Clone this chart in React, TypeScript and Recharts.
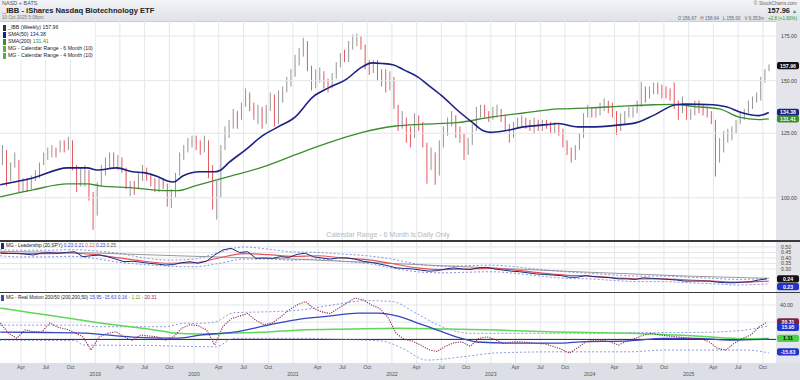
import React from 'react';
import { ComposedChart, Bar, Line, XAxis, YAxis, ReferenceLine } from 'recharts';

const FONT = '"Liberation Sans", Arial, sans-serif';

// ---------- price candles (semi-monthly, late Jan 2018 .. mid Oct 2025) ----------
const firstOpen = 113;
const close2018 = [118,108,111,114,104,105,103,106,108,112,116,117,118,117,121,119,122,112,107,108,110,101,95];
const high2018 = [120,118,113,117,113,107,107,108,110,113,117,119,120,119,122,122,123.5,122,112,111,112,108,102];
const low2018 = [112,104,106,111,102,102,102,103,106,107,112,114,115,115,117,117,118,110,102,104,104,99,89.5];
const close2019 = [104,110,113,116,113,114,111,104,104,103,108,110,108,105,104,106,105,99,101,108,115,119,121,122];
const high2019 = [105.5,112,115,117,117,116,115,111,106,106,109,112,111,109,107,107,107,105,103,109,117,120,123,124];
const low2019 = [94,104,108,111,111,110,109,103,100.5,101,103,106,106,104,102,102,103,97,96.5,100,108,114,117,119];
const close2020 = [121,118,122,110,100,101,118,124,128,133,131,137,142,138,133,136,130,136,142,130,140,145,148,152];
const high2020 = [124,122,124,122,112,106,120,128,131,136,135,139,146,144,139,138,137,138,144,143,145,147,152,156];
const low2020 = [118,116,117,107,96,92.7,100,118,123,127,127,131,137,135,131,129,127,129,135,128,129,139,144,147];
const close2021 = [160,163,172,158,150,151,153,150,146,152,158,163,162,168,172,174,170,160,156,158,155,150,146,150];
const high2021 = [164,168,174,172,158,156,157,155,151,154,160,165,167,172,176,176.5,175,170,161,161,161,156,156,155];
const low2021 = [152,158,163,155,145,146,149,146,144,146,151,157,160,160,167,169,167,156,153,154,150,147,144,145];
const close2022 = [138,129,132,126,123,133,130,120,112,116,108,120,125,130,133,125,124,116,121,127,134,136,134,133];
const high2022 = [152,138,135,131,128,134,133,130,121,119,117,122,128,132,135,133,128,125,123,129,137,138,138,135];
const low2022 = [136,126,127,121,119,124,126,119,105,110,104.6,108,119,124,128,123,121,114,116,120,126,132,132,130];
const close2023 = [135,136,132,129,124,128,130,131,129,128,131,127,130,129,127,128,126,121,118,114,119,124,133,136];
const high2023 = [137,138,136,133,129,130,132,133,132,131,132,131,131,131,130,130,129,127,122,119,120,125,134,138];
const low2023 = [131,132,130,126,121,123,127,128,127,126,125,126,126,127,125,125,124,119,116,113,114,118,123,132];
const close2024 = [134,136,137,139,137,135,128,131,134,135,135,138,146,142,145,147,146,145,144,142,138,135,138,133];
const high2024 = [137,137,139,141,140,139,135,134,135,137,137,140,149.4,147,147,149,149,148,147,146,149,140,142,137];
const low2024 = [132,132,133,135,134,132,124.3,126,129,132,132,134,137,139,141,143,143,141,141,140,136,131,134,131];
const close2025 = [134,138,137,135,134,131,113,120,123,124,126,129,132,134,138,140,141,150,155,157.96];
const high2025 = [136,140,140,138,137,135,128,123,126,127,128,131,135,136,140,142,144,152,156,158.64];
const low2025 = [131,133,134,133,132,129,107.6,115,117,121,122,125,129,131,134,136,139,140,149,155];

const closes = [...close2018, ...close2019, ...close2020, ...close2021, ...close2022, ...close2023, ...close2024, ...close2025];
const highs = [...high2018, ...high2019, ...high2020, ...high2021, ...high2022, ...high2023, ...high2024, ...high2025];
const lows = [...low2018, ...low2019, ...low2020, ...low2021, ...low2022, ...low2023, ...low2024, ...low2025];

// ---------- moving averages on price panel ----------
const sma50Dates = [2018.04,2018.37,2018.72,2018.92,2019.02,2019.22,2019.38,2019.49,2019.63,2019.73,2019.79,2019.89,2020.06,2020.21,2020.27,2020.35,2020.52,2020.69,2020.85,2021.02,2021.2,2021.36,2021.53,2021.7,2021.8,2021.9,2022.01,2022.12,2022.26,2022.39,2022.52,2022.66,2022.8,2022.93,2023.0,2023.13,2023.33,2023.57,2023.68,2023.88,2024.01,2024.26,2024.47,2024.64,2024.87,2024.97,2025.25,2025.38,2025.55,2025.71,2025.81];
const sma50Vals = [104.6,107.1,110.9,110.9,110.1,110.9,109.4,109.1,107.6,106.0,105.6,107.9,109.4,109.4,110.1,112.9,118,123.9,127.8,132.2,141.7,146.3,150.4,157.3,159.5,159.2,158.5,155.7,152,146.8,141.7,135.5,130.3,126,125.4,126,127.8,128.8,129.3,127.8,127.8,128.5,129.7,132.9,138,138.3,138,137,134.1,132.9,134.38];
const sma200Dates = [2018.04,2018.37,2018.72,2018.92,2019.05,2019.38,2019.73,2019.83,2020.01,2020.35,2020.69,2021.02,2021.36,2021.7,2022.04,2022.32,2022.66,2023.0,2023.33,2023.68,2024.01,2024.29,2024.64,2024.87,2025.04,2025.31,2025.51,2025.71,2025.81];
const sma200Vals = [100.3,102.8,104.9,104.9,104.2,103.5,102.5,102.5,104.2,107.6,111.2,116,121,125.4,128.2,129,129.7,132.2,134.1,136,136.5,137.2,138,138.2,137.2,136,132.2,131.1,131.41];

// ---------- Leadership panel (monthly / quarterly) ----------
const leadLine = [
  0.443,0.44,0.442,0.435,0.427,0.445,0.448,0.443,0.45,0.457,0.412,0.42,
  0.427,0.412,0.39,0.366,0.37,0.362,0.352,0.345,0.336,0.34,0.357,0.366,
  0.352,0.37,0.427,0.473,0.488,0.45,0.457,0.397,0.40,0.397,0.412,0.405,
  0.433,0.443,0.41,0.40,0.39,0.40,0.40,0.39,0.37,0.36,0.345,0.33,
  0.31,0.305,0.30,0.29,0.28,0.285,0.30,0.31,0.30,0.295,0.31,0.315,
  0.30,0.29,0.28,0.275,0.265,0.255,0.25,0.245,0.24,0.225,0.225,0.24,
  0.23,0.225,0.22,0.21,0.21,0.205,0.22,0.215,0.21,0.205,0.20,0.19,
  0.19,0.19,0.19,0.18,0.175,0.175,0.18,0.185,0.20,0.21];
const leadQDates = [2018.04,2018.25,2018.5,2018.75,2019.0,2019.25,2019.5,2019.75,2020.0,2020.25,2020.5,2020.75,2021.0,2021.25,2021.5,2021.75,2022.0,2022.25,2022.5,2022.75,2023.0,2023.25,2023.5,2023.75,2024.0,2024.25,2024.5,2024.75,2025.0,2025.25,2025.5,2025.81];
const leadAvg = [0.448,0.44,0.44,0.445,0.43,0.40,0.37,0.352,0.355,0.40,0.44,0.43,0.415,0.42,0.40,0.385,0.35,0.31,0.295,0.30,0.305,0.29,0.265,0.245,0.235,0.22,0.21,0.21,0.20,0.19,0.18,0.19];
const leadUpper = [0.475,0.47,0.47,0.475,0.465,0.44,0.40,0.38,0.39,0.45,0.50,0.48,0.455,0.45,0.435,0.42,0.39,0.345,0.325,0.33,0.335,0.32,0.295,0.275,0.26,0.245,0.235,0.235,0.225,0.215,0.205,0.215];
const leadLower = [0.42,0.41,0.41,0.415,0.395,0.36,0.34,0.325,0.32,0.35,0.39,0.39,0.38,0.39,0.37,0.35,0.31,0.275,0.265,0.27,0.275,0.26,0.235,0.215,0.21,0.195,0.185,0.185,0.175,0.165,0.155,0.165];
const leadTrendDates = [2018.04,2019.0,2020.0,2021.0,2022.0,2023.0,2024.0,2025.0,2025.81];
const leadTrend = [0.46,0.445,0.415,0.39,0.35,0.31,0.27,0.235,0.215];

// ---------- Real Motion panel ----------
const rmLine = [
  19,7,1.5,11,9,8.5,19,14,12,8,3,-12.4,
  3,7,9,3,-1,5,4,3,-1,3,13,17,
  16,11,-6.6,15,24,27,30,22,17,19,26,34,
  40,44,36,32,30,36,42,48,46,40,36,26,
  7,0,-2,-6.6,-12,-14,-8,-4,-3,-8,1,3,
  0,-4.7,-3,-2.8,-3.5,-4.7,-5,-8,-11,-16,-10,-2.8,
  -1,-1,-3,-6.6,-2,1,5,7,5,4,3,2,
  1,1,-3,-10.5,-12.4,-4.7,1,5,14,20.31];
const rmBlueDates = [2018.04,2018.5,2018.9,2019.05,2019.38,2019.73,2019.85,2020.06,2020.4,2020.75,2021.07,2021.36,2021.66,2021.86,2022.06,2022.26,2022.46,2022.73,2022.86,2023.26,2023.73,2023.9,2024.4,2024.75,2025.08,2025.41,2025.81];
const rmBlue = [8.5,8,7.3,5.8,2.7,1.5,1.5,5,8.5,16.6,23.6,27,30.6,30.6,27,19,10.8,0.3,-3,-4.3,-4.3,-2.8,-1.6,1.2,1.2,-0.8,0.16];
const rmGreenDates = [2018.04,2018.37,2018.72,2019.05,2019.38,2019.73,2019.79,2020.06,2020.4,2020.75,2021.07,2021.57,2022.07,2022.57,2023.07,2023.58,2024.42,2025.08,2025.58,2025.81];
const rmGreen = [36.4,30.6,24.8,19,14.3,8.5,7.3,6.2,7.3,8.5,10.8,12,13,12,10.8,8.8,7,3.8,0.8,1.11];
const rmUpperDates = [2018.04,2018.88,2019.0,2019.7,2019.9,2020.06,2020.22,2020.4,2020.73,2021.07,2021.4,2021.75,2022.0,2022.25,2022.5,2022.8,2023.5,2024.0,2024.5,2025.0,2025.5,2025.81];
const rmUpper = [16.6,16.6,14.7,14.7,18.6,18.6,20.5,31,32,34,40,45,44,30,15,7,7,7,8,8,10,15.95];
const rmLowerDates = [2018.04,2018.8,2018.88,2019.5,2020.22,2020.4,2021.07,2021.5,2021.9,2022.1,2022.35,2022.73,2023.07,2023.73,2024.4,2024.75,2025.58,2025.81];
const rmLower = [-1,-1.5,-6.6,-7,-8.6,1.2,1.2,0,-2,-10,-24,-20,-15.6,-14.4,-14.4,-12.4,-12.4,-15.63];

const priceTicks = [100, 125, 150, 175];
const leadTicks = [0.3, 0.35, 0.4, 0.45, 0.5];
const rmTicks = [20, 40];
const monthNames = ['', 'Apr', 'Jul', 'Oct'];

// ---------- derived structures ----------
const X_DOMAIN: [number, number] = [2018.038, 2025.883];
const periodDates: number[] = [];
for (let y = 2018; y <= 2025; y++) {
  for (let m = 0; m < 12; m++) {
    for (let h = 0; h < 2; h++) {
      if (y === 2018 && m === 0 && h === 0) continue;
      if (y === 2025 && m > 9) continue;
      periodDates.push(y + m / 12 + (h === 0 ? 0.25 : 0.75) / 12);
    }
  }
}
const candleData = closes.map((c, i) => {
  const o = i === 0 ? firstOpen : closes[i - 1];
  const h = Math.max(highs[i], o, c);
  const l = Math.min(lows[i], o, c);
  return { t: periodDates[i], o, h, l, c, range: [l, h] };
});
const pairs = (dates: number[], vals: number[]) => vals.map((v, i) => ({ t: dates[i], v }));
const monthly = (vals: number[]) => vals.map((v, i) => ({ t: 2018 + i / 12 + 1 / 24, v }));
const quarterTicks: number[] = [];
for (let y = 2018; y <= 2025; y++) for (let q = 0; q < 4; q++) {
  const t = y + q / 4;
  if (t > X_DOMAIN[0] && t < X_DOMAIN[1]) quarterTicks.push(t);
}

const Candle = (props: any) => {
  const { x, y, width, height, payload } = props;
  if (!payload || !isFinite(y) || !isFinite(height)) return null;
  const top0 = Math.min(y, y + height);
  const hh = Math.abs(height);
  const { o, h, l, c } = payload;
  const lh = Math.log(h), ll = Math.log(l);
  const py = (p: number) => top0 + (hh * (lh - Math.log(p))) / (lh - ll || 1);
  const up = c >= o;
  const color = up ? '#8a8a8a' : '#e2474f';
  const cx = x + width / 2;
  const bt = py(Math.max(o, c));
  const bb = py(Math.min(o, c));
  return (
    <g>
      <line x1={cx} x2={cx} y1={top0} y2={top0 + hh} stroke={color} strokeWidth={0.9} />
      <rect x={x} y={bt} width={width} height={Math.max(bb - bt, 0.8)} fill={color} />
    </g>
  );
};

const YTick = (props: any) => {
  const { x, y, payload, digits } = props;
  return (
    <text x={x} y={y + 2} fontSize={5.2} fill="#444" fontFamily={FONT} textAnchor="start">
      {Number(payload.value).toFixed(digits)}
    </text>
  );
};

// plain axis text placed at the right end of a horizontal reference line
const AxisText = (props: any) => {
  const { viewBox, value } = props;
  if (!viewBox) return null;
  return (
    <g>
      <text x={viewBox.x + viewBox.width + 4} y={viewBox.y + 2} fontSize={5.2} fill="#444" fontFamily={FONT} textAnchor="start">{value}</text>
    </g>
  );
};

const XTick = (props: any) => {
  const { x, y, payload } = props;
  const t = payload.value as number;
  const q = Math.round((t - Math.floor(t)) * 4);
  if (q === 0) {
    return <text x={x} y={y + 12.5} fontSize={5.2} fill="#555" fontFamily={FONT} textAnchor="middle">{Math.round(t)}</text>;
  }
  return <text x={x} y={y + 5.8} fontSize={5.2} fill="#555" fontFamily={FONT} textAnchor="middle">{monthNames[q]}</text>;
};

const ValueBox = (props: any) => {
  const { viewBox, text, bg, fg } = props;
  if (!viewBox) return null;
  const bx = viewBox.x + viewBox.width + 1;
  const by = viewBox.y;
  return (
    <g>
      <rect x={bx} y={by - 3.6} width={22} height={7.2} rx={2} fill={bg} />
      <text x={bx + 11} y={by + 2} fontSize={5.2} fontWeight="bold" fill={fg} textAnchor="middle" fontFamily={FONT}>{text}</text>
    </g>
  );
};

const grid = '#e4e6ea';
const margin0 = { top: 0, right: 0, bottom: 0, left: 0 };

const Swatch = ({ color }: { color: string }) => (
  <span style={{ display: 'inline-block', width: 3, height: 6, background: color, marginRight: 2, verticalAlign: 'middle' }} />
);

export default function App() {
  return (
    <div style={{ position: 'relative', width: 800, height: 380, background: '#fff', fontFamily: FONT, overflow: 'hidden' }}>
      <style>{'body{margin:0}'}</style>
      {/* header */}
      <div style={{ position: 'absolute', left: 0, top: 0, width: 800, height: 21, background: 'linear-gradient(#f3f4f7, #dfe2e8)', borderBottom: '1px solid #c8ccd4' }} />
      <div style={{ position: 'absolute', left: 2, top: 0, fontSize: 5.5, color: '#555' }}>NASD + BATS</div>
      <div style={{ position: 'absolute', left: 2, top: 5.5, fontSize: 7.6, fontWeight: 'bold', color: '#222' }}>_IBB - iShares Nasdaq Biotechnology ETF</div>
      <div style={{ position: 'absolute', left: 2, top: 14.5, fontSize: 4.6, color: '#777' }}>10 Oct 2025 5:08pm</div>
      <div style={{ position: 'absolute', right: 3, top: 0, fontSize: 5, color: '#666' }}>© StockCharts.com</div>
      <div style={{ position: 'absolute', right: 3, top: 6, fontSize: 7.4, fontWeight: 'bold', color: '#222' }}>157.96 <span style={{ color: '#2a9d3a', fontSize: 5 }}>▲</span></div>
      <div style={{ position: 'absolute', right: 3, top: 15.5, fontSize: 4.6, color: '#666', whiteSpace: 'nowrap' }}>
        O 156.67&nbsp;&nbsp; H 158.64&nbsp;&nbsp; L 155.00&nbsp;&nbsp; V 6.353m&nbsp;&nbsp; <span style={{ color: '#2a9d3a' }}>+2.8 (+1.80%)</span>
      </div>
      {/* right axis strip */}
      <div style={{ position: 'absolute', left: 776, top: 21, width: 24, height: 342, background: '#e3e5ea' }} />
      {/* bottom axis strip */}
      <div style={{ position: 'absolute', left: 0, top: 363, width: 800, height: 17, background: '#dcdfe5' }} />

      {/* price panel */}
      <div style={{ position: 'absolute', left: 0, top: 21 }}>
        <ComposedChart width={800} height={219} data={candleData} margin={margin0}>
          <XAxis type="number" dataKey="t" domain={X_DOMAIN} allowDataOverflow hide />
          <YAxis orientation="right" width={24} type="number" scale="log" domain={[86.4, 184.4]} allowDataOverflow interval={0}
            ticks={priceTicks} tick={<YTick digits={2} />} axisLine={false} tickLine={false} tickSize={3} />
          {quarterTicks.map((t) => <ReferenceLine key={'qx' + t} x={t} stroke={grid} />)}
          {priceTicks.map((p) => <ReferenceLine key={'py' + p} y={p} stroke={grid} />)}
          <Bar dataKey="range" barSize={2.6} shape={<Candle />} isAnimationActive={false} />
          <Line data={pairs(sma200Dates, sma200Vals)} dataKey="v" type="monotone" stroke="#3d8b2f" strokeWidth={1.3} dot={false} isAnimationActive={false} />
          <Line data={pairs(sma50Dates, sma50Vals)} dataKey="v" type="monotone" stroke="#1b2380" strokeWidth={1.6} dot={false} isAnimationActive={false} />
          <ReferenceLine y={157.96} stroke="none" label={<ValueBox text="157.96" bg="#111" fg="#fff" />} />
          <ReferenceLine y={134.38} stroke="none" label={<ValueBox text="134.38" bg="#1b2380" fg="#fff" />} />
          <ReferenceLine y={131.41} stroke="none" label={<ValueBox text="131.41" bg="#3d8b2f" fg="#fff" />} />
        </ComposedChart>
      </div>
      {/* price legend */}
      <div style={{ position: 'absolute', left: 1, top: 23, fontSize: 5.2, lineHeight: '7px', color: '#222', background: 'rgba(255,255,255,0.85)', padding: '1px 2px' }}>
        <div><Swatch color="#333" />_IBB (Weekly) 157.96</div>
        <div><Swatch color="#1b2380" />SMA(50) <span style={{ color: '#1b2380' }}>134.38</span></div>
        <div><Swatch color="#3d8b2f" />SMA(200) <span style={{ color: '#3d8b2f' }}>131.41</span></div>
        <div><Swatch color="#55b04a" />MG - Calendar Range - 6 Month (10)</div>
        <div><Swatch color="#55b04a" />MG - Calendar Range - 4 Month (10)</div>
      </div>
      <div style={{ position: 'absolute', left: 0, width: 776, top: 231, textAlign: 'center', fontSize: 7, color: '#b4b8c0' }}>Calendar Range - 6 Month is Daily Only</div>

      {/* separators */}
      <div style={{ position: 'absolute', left: 0, top: 240, width: 800, height: 1.5, background: '#3a3a3a' }} />
      <div style={{ position: 'absolute', left: 0, top: 291.5, width: 800, height: 1.5, background: '#3a3a3a' }} />

      {/* leadership panel */}
      <div style={{ position: 'absolute', left: 0, top: 242 }}>
        <ComposedChart width={800} height={49} margin={margin0}>
          <XAxis type="number" dataKey="t" domain={X_DOMAIN} allowDataOverflow hide />
          <YAxis orientation="right" width={24} type="number" domain={[0.1, 0.545]} allowDataOverflow interval={0}
            ticks={leadTicks} tick={<YTick digits={2} />} axisLine={false} tickLine={false} tickSize={3} />
          {quarterTicks.map((t) => <ReferenceLine key={'lx' + t} x={t} stroke={grid} />)}
          {leadTicks.map((p) => <ReferenceLine key={'ly' + p} y={p} stroke={grid} />)}
          <Line data={pairs(leadTrendDates, leadTrend)} dataKey="v" type="linear" stroke="#9a9a9a" strokeWidth={1} dot={false} isAnimationActive={false} />
          <Line data={pairs(leadQDates, leadUpper)} dataKey="v" type="monotone" stroke="#6a78d6" strokeWidth={0.8} strokeDasharray="2 2" dot={false} isAnimationActive={false} />
          <Line data={pairs(leadQDates, leadLower)} dataKey="v" type="monotone" stroke="#6a78d6" strokeWidth={0.8} strokeDasharray="2 2" dot={false} isAnimationActive={false} />
          <Line data={pairs(leadQDates, leadAvg)} dataKey="v" type="monotone" stroke="#e0545a" strokeWidth={1.2} dot={false} isAnimationActive={false} />
          <Line data={monthly(leadLine)} dataKey="v" type="linear" stroke="#1d2a7a" strokeWidth={1} dot={false} isAnimationActive={false} />
          <ReferenceLine y={0.21} stroke="none" label={<ValueBox text="0.24" bg="#111" fg="#fff" />} />
          <ReferenceLine y={0.14} stroke="none" label={<ValueBox text="0.23" bg="#2233cc" fg="#fff" />} />
        </ComposedChart>
      </div>
      <div style={{ position: 'absolute', left: 1, top: 243, fontSize: 4.8, color: '#222', whiteSpace: 'nowrap' }}>
        <Swatch color="#1d2a7a" />MG - Leadership (20,SPY) <span style={{ color: '#3344cc' }}>0.23</span> <span style={{ color: '#3344cc' }}>0.21</span> <span style={{ color: '#e0545a' }}>0.22</span> <span style={{ color: '#3344cc' }}>0.23</span> <span style={{ color: '#555' }}>0.25</span>
      </div>

      {/* real motion panel */}
      <div style={{ position: 'absolute', left: 0, top: 294 }}>
        <ComposedChart width={800} height={86} margin={margin0}>
          <XAxis type="number" dataKey="t" domain={X_DOMAIN} allowDataOverflow ticks={quarterTicks} interval={0}
            tick={<XTick />} axisLine={false} tickLine={false} tickSize={0} tickMargin={0} height={17} />
          <YAxis orientation="right" width={24} type="number" domain={[-27.4, 52.7]} allowDataOverflow tick={false} axisLine={false} tickLine={false} />
          {quarterTicks.map((t) => <ReferenceLine key={'rx' + t} x={t} stroke={grid} />)}
          <ReferenceLine y={rmTicks[1]} stroke={grid} label={<AxisText value={rmTicks[1].toFixed(2)} />} />
          <ReferenceLine y={rmTicks[0]} stroke={grid} label={<AxisText value={rmTicks[0].toFixed(2)} />} />
          <ReferenceLine y={0} stroke="#222" strokeWidth={1} />
          <Line data={pairs(rmUpperDates, rmUpper)} dataKey="v" type="monotone" stroke="#7480d8" strokeWidth={0.8} strokeDasharray="2 2" dot={false} isAnimationActive={false} />
          <Line data={pairs(rmLowerDates, rmLower)} dataKey="v" type="monotone" stroke="#7480d8" strokeWidth={0.8} strokeDasharray="2 2" dot={false} isAnimationActive={false} />
          <Line data={pairs(rmGreenDates, rmGreen)} dataKey="v" type="monotone" stroke="#5fd85a" strokeWidth={1.5} dot={false} isAnimationActive={false} />
          <Line data={pairs(rmBlueDates, rmBlue)} dataKey="v" type="monotone" stroke="#3446c0" strokeWidth={1.3} dot={false} isAnimationActive={false} />
          <Line data={monthly(rmLine)} dataKey="v" type="linear" stroke="#8b2a55" strokeWidth={1.1} strokeDasharray="1.2 1.2" dot={false} isAnimationActive={false} />
          <ReferenceLine y={20.31} stroke="none" label={<ValueBox text="20.31" bg="#7a2040" fg="#fff" />} />
          <ReferenceLine y={14} stroke="none" label={<ValueBox text="15.95" bg="#2233cc" fg="#fff" />} />
          <ReferenceLine y={1.11} stroke="none" label={<ValueBox text="1.11" bg="#4cd04a" fg="#000" />} />
          <ReferenceLine y={-14.5} stroke="none" label={<ValueBox text="-15.63" bg="#2233cc" fg="#fff" />} />
        </ComposedChart>
      </div>
      <div style={{ position: 'absolute', left: 1, top: 294.5, fontSize: 4.8, color: '#222', whiteSpace: 'nowrap' }}>
        <Swatch color="#3446c0" />MG - Real Motion 200/50 (200,200,50) <span style={{ color: '#3344cc' }}>15.95</span> <span style={{ color: '#3344cc' }}>-15.63</span> <span style={{ color: '#3344cc' }}>0.16</span> · <span style={{ color: '#3aa83a' }}>1.11</span> · <span style={{ color: '#8b2a55' }}>20.31</span>
      </div>
    </div>
  );
}
